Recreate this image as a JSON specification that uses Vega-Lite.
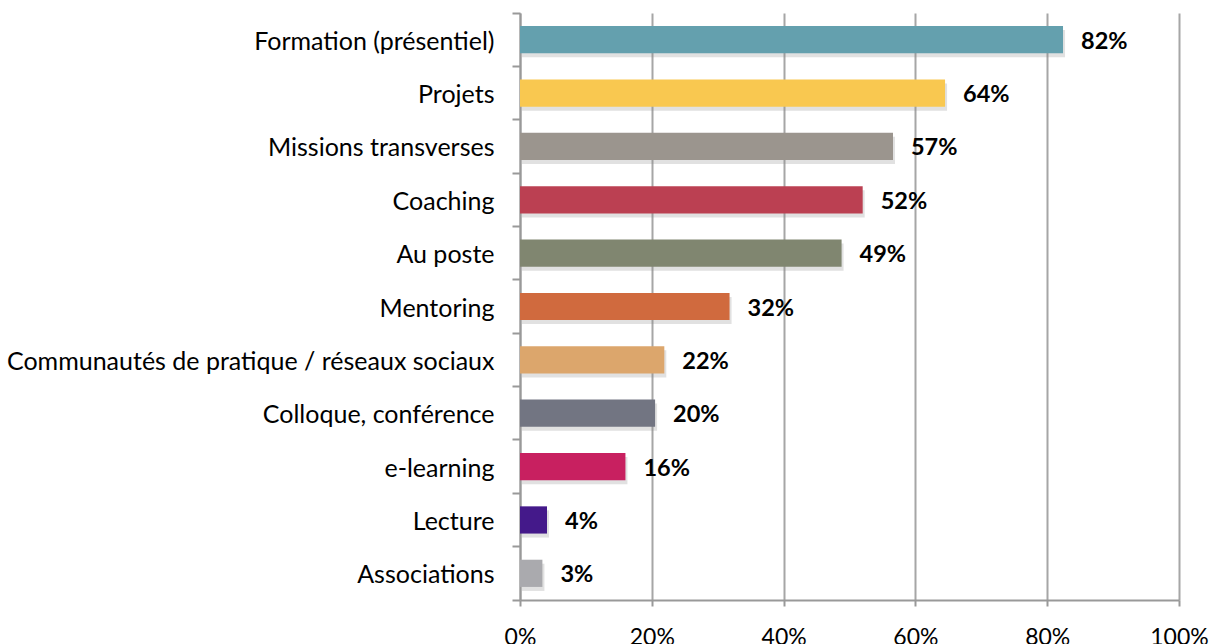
{
  "$schema": "https://vega.github.io/schema/vega-lite/v6.json",
  "autosize": "none",
  "width": 659,
  "height": 587,
  "padding": {"left": 520, "top": 13, "right": 32, "bottom": 44},
  "background": "white",
  "config": {"view": {"stroke": null}, "font": "Lato"},
  "data": {"values": [
    {"cat": "Formation (présentiel)", "v": 0.824, "lbl": "82%", "c": "#64a0ae"},
    {"cat": "Projets", "v": 0.645, "lbl": "64%", "c": "#f9c850"},
    {"cat": "Missions transverses", "v": 0.566, "lbl": "57%", "c": "#9b958e"},
    {"cat": "Coaching", "v": 0.520, "lbl": "52%", "c": "#bb4052"},
    {"cat": "Au poste", "v": 0.488, "lbl": "49%", "c": "#808670"},
    {"cat": "Mentoring", "v": 0.318, "lbl": "32%", "c": "#d06a3e"},
    {"cat": "Communautés de pratique / réseaux sociaux", "v": 0.219, "lbl": "22%", "c": "#dca66c"},
    {"cat": "Colloque, conférence", "v": 0.205, "lbl": "20%", "c": "#727582"},
    {"cat": "e-learning", "v": 0.160, "lbl": "16%", "c": "#c82060"},
    {"cat": "Lecture", "v": 0.041, "lbl": "4%", "c": "#44198a"},
    {"cat": "Associations", "v": 0.034, "lbl": "3%", "c": "#aaaaae"}
  ]},
  "encoding": {
    "y": {
      "field": "cat", "type": "nominal", "sort": null,
      "scale": {"paddingInner": 0, "paddingOuter": 0},
      "axis": {
        "title": null, "grid": false, "bandPosition": 1, "tickExtra": true,
        "domainColor": "#999999", "domainWidth": 2, "tickColor": "#999999", "tickWidth": 2, "tickSize": 8,
        "labelFont": "Lato", "labelFontSize": 25, "labelColor": "#000000", "labelPadding": 18, "labelLimit": 600, "labelOffset": 2
      }
    },
    "x": {
      "field": "v", "type": "quantitative",
      "scale": {"domain": [0, 1], "nice": false},
      "axis": {
        "title": null, "format": ".0%", "values": [0, 0.2, 0.4, 0.6, 0.8, 1],
        "grid": true, "gridColor": "#a6a6a6", "gridWidth": 2,
        "domainColor": "#999999", "domainWidth": 2, "tickColor": "#999999", "tickWidth": 2, "tickSize": 6,
        "labelFont": "Lato", "labelFontSize": 23, "labelColor": "#000000", "labelPadding": 20, "labelFlush": false
      }
    }
  },
  "layer": [
    {
      "mark": {"type": "bar", "height": {"band": 0.51}, "color": "#888888", "opacity": 0.25, "yOffset": 4, "xOffset": 2},
      "encoding": {}
    },
    {
      "mark": {"type": "bar", "height": {"band": 0.51}},
      "encoding": {"color": {"field": "c", "type": "nominal", "scale": null, "legend": null}}
    },
    {
      "mark": {"type": "text", "align": "left", "baseline": "middle", "dx": 18, "dy": 2, "fontWeight": "bold", "fontSize": 23.5, "font": "Lato", "color": "#000000"},
      "encoding": {"text": {"field": "lbl"}}
    }
  ]
}
